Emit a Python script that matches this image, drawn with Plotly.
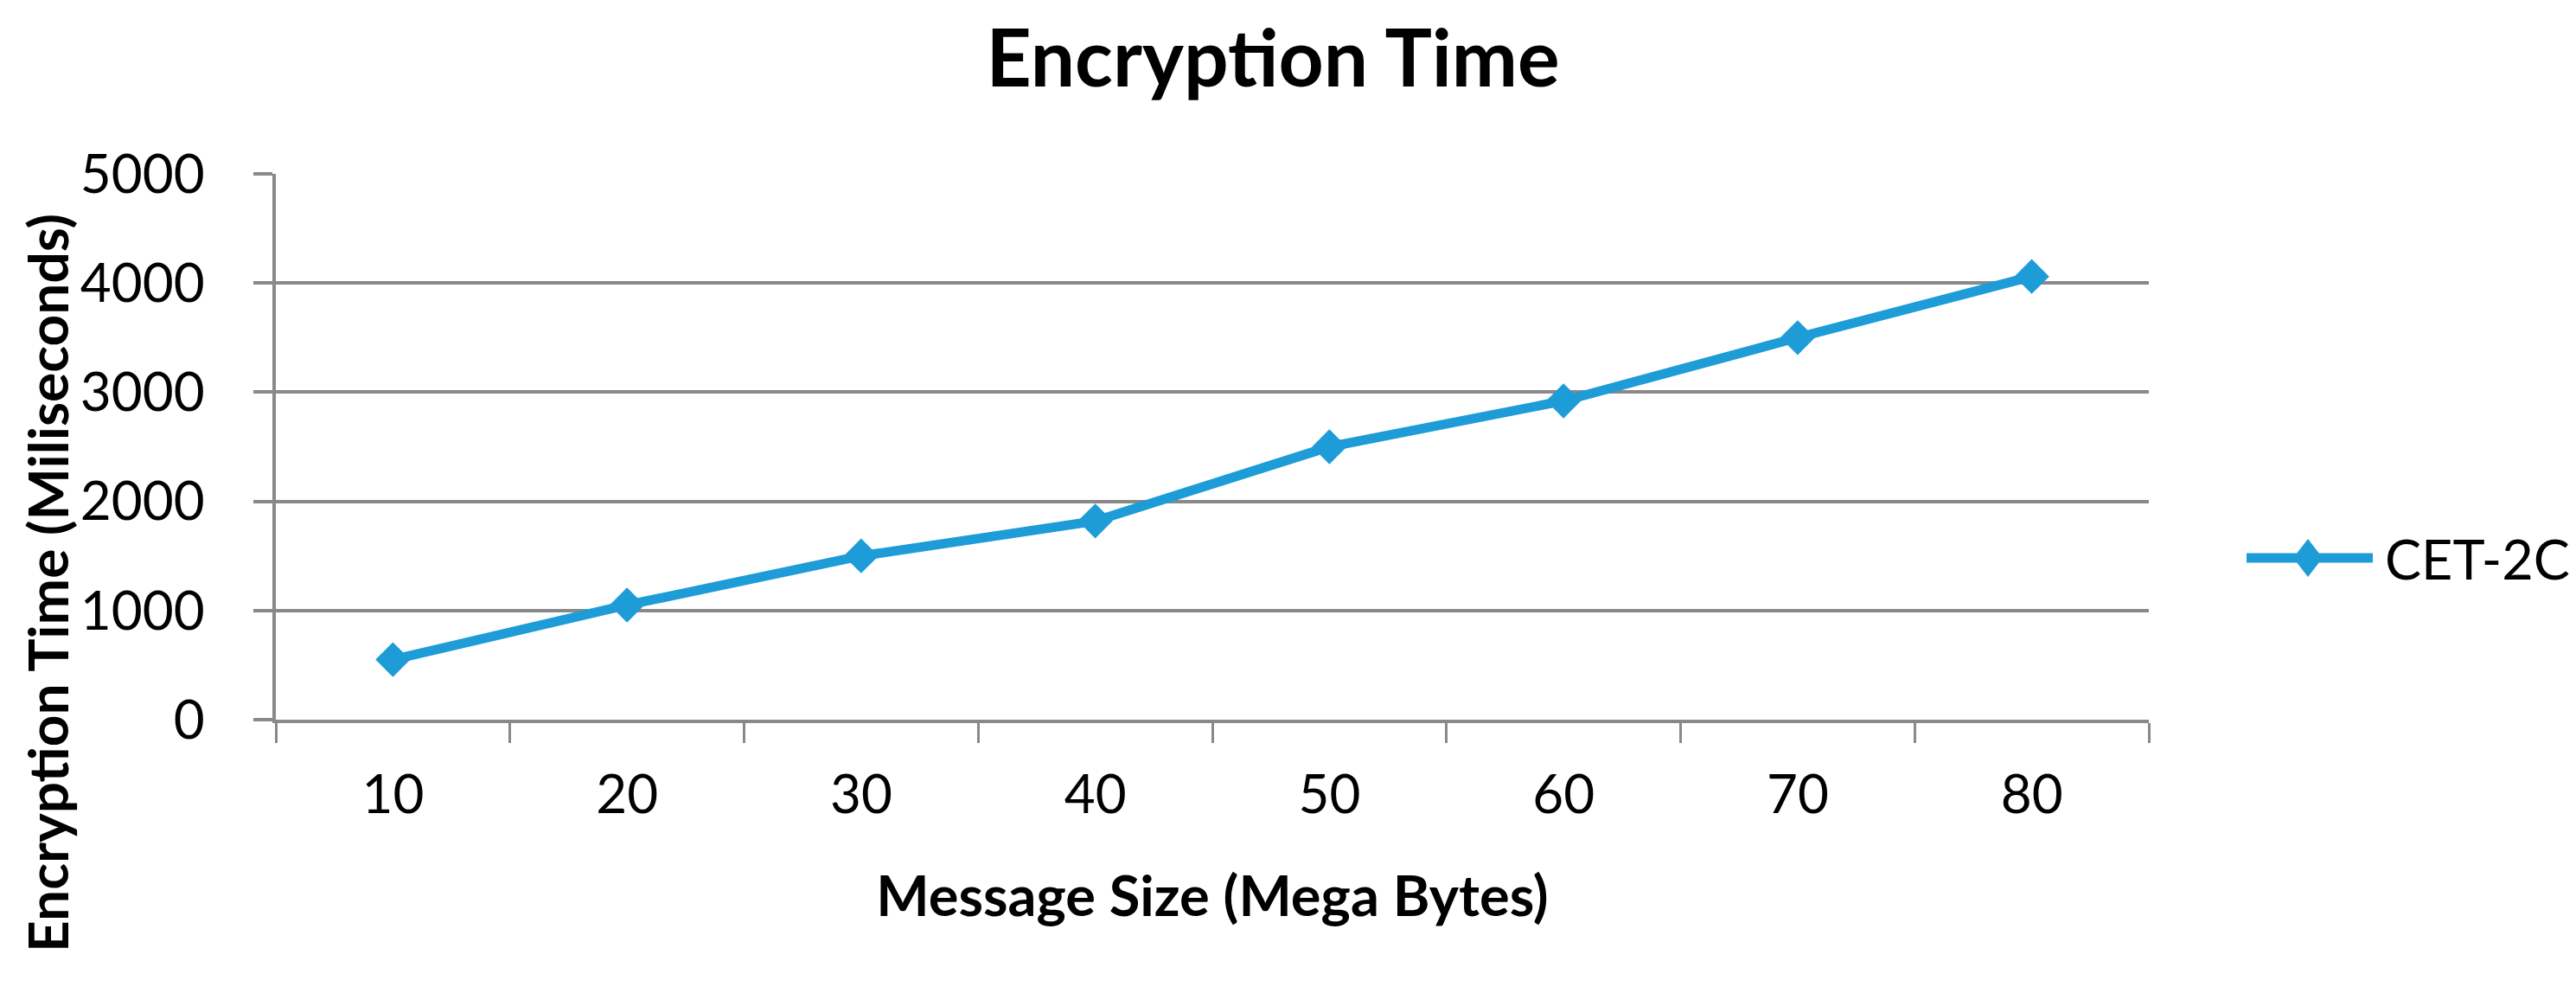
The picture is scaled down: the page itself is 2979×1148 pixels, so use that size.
import plotly.graph_objects as go

categories = ["10", "20", "30", "40", "50", "60", "70", "80"]
encryption_ms = [550, 1050, 1500, 1820, 2500, 2920, 3500, 4060]
series_name = "CET-2C"
y_ticks = [0, 1000, 2000, 3000, 4000, 5000]

# The page body has an 8px margin: the figure is drawn at (8, 8) in the screenshot.
OFF = 8
SW, SH = 2979, 1148
W, H = SW - 2 * OFF, SH - 2 * OFF
PL, PR, PT, PB = 319, 2485, 201, 832          # plot-area edges in screenshot pixels
L, T = PL - OFF, PT - OFF
R, B = W - (PR - OFF), H - (PB - OFF)
FONT = "Lato"
BLUE = "#1E9CD8"
GRID = "#898989"


def px(x):
    return (x - PL) / (PR - PL)


def py(y):
    return (PB - y) / (PB - PT)


fig = go.Figure()
fig.add_trace(go.Scatter(
    x=categories, y=encryption_ms, name=series_name,
    mode="lines+markers",
    line=dict(color=BLUE, width=11),
    marker=dict(symbol="diamond", size=31, color=BLUE),
    showlegend=False,
))

# legend sample (line + diamond) and label
leg_y = 645
shapes = [
    dict(type="line", xref="paper", yref="paper",
         x0=px(2598), x1=px(2744), y0=py(leg_y), y1=py(leg_y),
         line=dict(color=BLUE, width=11)),
    dict(type="path", xref="paper", yref="paper",
         path=(f"M {px(2669 - 17)},{py(leg_y)} L {px(2669)},{py(leg_y - 22)} "
               f"L {px(2669 + 17)},{py(leg_y)} L {px(2669)},{py(leg_y + 22)} Z"),
         fillcolor=BLUE, line=dict(color=BLUE, width=0)),
]

fig.update_layout(
    width=W, height=H,
    margin=dict(l=L, r=R, t=T, b=B, pad=0, autoexpand=False),
    paper_bgcolor="white", plot_bgcolor="white",
    font=dict(family=FONT, color="black", size=62),
    title=dict(text="<b>Encryption Time</b>", x=(1472 - OFF) / W, xanchor="center",
               y=1 - 28 / H, yanchor="top", yref="container",
               font=dict(size=91, family=FONT, color="black")),
    showlegend=False,
    shapes=shapes,
    xaxis=dict(type="category", range=[-0.5, 7.5], tickson="boundaries",
               ticks="outside", ticklen=23, tickwidth=3, tickcolor=GRID,
               showline=True, linecolor=GRID, linewidth=4,
               showgrid=False, zeroline=False,
               ticklabelstandoff=30,
               tickfont=dict(size=62, family=FONT, color="black"),
               title=dict(text="<b>Message Size (Mega Bytes)</b>", standoff=62,
                          font=dict(size=65, family=FONT, color="black"))),
    yaxis=dict(range=[0, 5000], tickvals=y_ticks,
               ticks="outside", ticklen=22, tickwidth=4, tickcolor=GRID,
               showline=True, linecolor=GRID, linewidth=4,
               showgrid=True, gridcolor=GRID, gridwidth=4,
               zeroline=False, ticklabelstandoff=44,
               tickfont=dict(size=62, family=FONT, color="black")),
    annotations=[
        dict(text="<b>Encryption Time (Miliseconds)</b>",
             xref="paper", yref="paper",
             x=px(54), y=py(674),
             xanchor="center", yanchor="middle", textangle=-90,
             showarrow=False,
             font=dict(size=64, family=FONT, color="black")),
        dict(text=series_name, xref="paper", yref="paper",
             x=px(2756), y=py(leg_y), xanchor="left", yanchor="middle",
             showarrow=False,
             font=dict(size=63, family=FONT, color="black")),
    ],
)

fig.write_html("out.html")
